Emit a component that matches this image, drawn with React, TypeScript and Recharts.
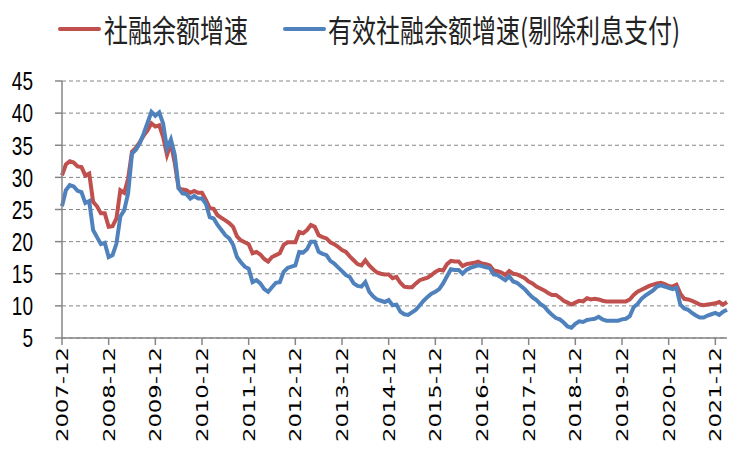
import React from "react";
import { LineChart, Line, XAxis, YAxis, CartesianGrid, Legend } from "recharts";

// Monthly categories 2007-12 .. 2022-03
const months: string[] = (() => {
  const out: string[] = [];
  let y = 2007;
  let m = 12;
  for (let i = 0; i < 172; i++) {
    out.push(`${y}-${m}`);
    m++;
    if (m > 12) {
      m = 1;
      y++;
    }
  }
  return out;
})();

const seriesNames = ["社融余额增速", "有效社融余额增速(剔除利息支付)"];

const tsfGrowth: number[] = [
  30.3, 32.0, 32.5, 32.3, 31.7, 31.6, 30.3, 30.6, 26.2, 25.5, 24.4, 24.4,
  22.3, 22.4, 23.6, 28.0, 27.6, 29.8, 34.0, 34.6, 35.5, 36.5, 37.3, 38.4,
  37.9, 38.1, 36.3, 33.5, 35.3, 32.2, 28.3, 28.1, 28.0, 27.6, 27.9, 27.6,
  27.6, 26.5, 25.2, 25.1, 24.1, 23.7, 23.3, 22.9, 22.3, 20.8, 20.2, 19.9,
  19.6, 18.2, 18.4, 18.0, 17.3, 16.9, 17.6, 17.9, 18.2, 19.5, 19.9, 19.9,
  19.9, 21.5, 21.3, 21.8, 22.6, 22.3, 21.0, 20.7, 20.5, 19.9, 19.6, 19.2,
  18.7, 18.4, 17.7, 17.1, 16.5, 16.3, 17.1, 16.3, 15.7, 15.2, 15.0, 14.9,
  14.9, 14.3, 14.5, 13.6, 13.0, 12.9, 12.9, 13.5, 14.0, 14.2, 14.4, 14.8,
  15.3, 15.6, 15.5, 16.5, 17.0, 16.9, 16.9, 16.2, 16.5, 16.6, 16.7, 16.9,
  16.6, 16.5, 16.3, 15.5, 15.4, 15.2, 14.8, 15.4, 15.0, 14.9, 14.6, 14.3,
  13.8, 13.5, 13.0, 12.7, 12.4, 12.0, 11.7, 11.7, 11.3, 10.8, 10.5, 10.2,
  10.5, 10.8, 10.7, 11.2, 11.0, 11.1, 11.0, 10.8, 10.7, 10.7, 10.7, 10.7,
  10.7, 10.7, 11.0, 11.7, 12.2, 12.5, 12.8, 13.1, 13.3, 13.5, 13.6, 13.4,
  13.1, 13.0, 13.3, 11.9, 11.1, 11.0, 10.8, 10.5, 10.2, 10.1, 10.2, 10.3,
  10.4, 10.6, 10.2, 10.6,
];

const effectiveGrowth: number[] = [
  25.5, 28.0, 28.8, 28.6, 27.9, 27.7, 26.0, 26.3, 21.8, 20.7, 19.6, 19.8,
  17.6, 17.9, 19.7, 23.9, 24.9, 27.5, 33.7, 34.3, 35.3, 36.8, 38.5, 40.2,
  39.6, 40.1, 38.4, 34.5, 35.9, 33.5, 28.3, 27.5, 27.4, 26.7, 27.1, 26.7,
  26.7, 25.9, 23.8, 23.6, 22.6, 21.8, 21.0, 20.5, 19.5, 17.6, 16.8, 16.1,
  15.8, 13.7, 14.0, 13.5, 12.6, 12.2, 12.9, 13.6, 13.7, 15.3, 15.9, 16.1,
  16.3, 18.4, 18.3, 18.8, 20.0, 20.0, 18.4, 18.1, 17.9, 17.0, 16.6, 16.0,
  15.4, 14.8, 14.5, 13.5, 13.1, 13.0, 13.7, 12.2, 11.5, 11.0, 10.8, 10.6,
  10.9, 10.1, 10.2, 9.1, 8.7, 8.6, 9.0, 9.4, 10.1, 10.8, 11.4, 11.9,
  12.2, 12.6, 13.5, 14.6, 15.7, 15.6, 15.6, 15.0, 15.6, 15.9, 16.1, 16.3,
  16.2, 16.0, 15.9, 14.9, 14.8, 14.4, 14.0, 14.6, 13.8, 13.6, 13.1, 12.6,
  11.9, 11.3, 10.9, 10.3, 9.9, 9.2, 8.6, 8.1, 7.9, 7.4, 6.8, 6.6,
  7.2, 7.6, 7.5, 7.8, 7.9, 8.0, 8.3, 7.9, 7.7, 7.7, 7.7, 7.7,
  7.9, 8.0, 8.4, 9.8, 10.3, 11.1, 11.6, 12.0, 12.4, 13.0, 13.2, 13.0,
  12.8, 12.6, 12.8, 10.2, 9.6, 9.4, 8.9, 8.5, 8.2, 8.2, 8.5, 8.7,
  8.9, 8.6, 9.1, 9.4,
];

const yTicks: number[] = [5, 10, 15, 20, 25, 30, 35, 40, 45];

const RED = "#C0504D";
const BLUE = "#4F81BD";
const AXIS = "#868686";

const data = months.map((m, i) => ({
  month: m,
  a: tsfGrowth[i],
  b: effectiveGrowth[i],
}));

const YTick = (props: any) => {
  const { x, y, payload } = props;
  return (
    <g transform={`translate(${x},${y})`}>
      <text
        x={0}
        y={0}
        dy="0.36em"
        textAnchor="end"
        transform="scale(1,1.35)"
        fill="#000"
        fontSize={19}
        fontFamily="'Liberation Sans', Arial, sans-serif"
      >
        {payload.value}
      </text>
    </g>
  );
};

const XTick = (props: any) => {
  const { x, y, payload } = props;
  return (
    <g transform={`translate(${x},${y})`}>
      <text
        x={0}
        y={0}
        dy="0.36em"
        textAnchor="end"
        transform="scale(1,1.38) rotate(-90)"
        fill="#000"
        fontSize={16.5}
        fontFamily="'DejaVu Sans', sans-serif"
      >
        {payload.value}
      </text>
    </g>
  );
};

const LegendContent = () => {
  const textStyle: React.CSSProperties = {
    position: "absolute",
    top: 0,
    fontSize: 24,
    lineHeight: "30px",
    fontFamily: "'Noto Sans CJK SC', sans-serif",
    color: "#222",
    whiteSpace: "nowrap",
    transform: "scale(1,1.3)",
    transformOrigin: "left center",
  };
  return (
    <div style={{ position: "relative", width: 736, height: 0, overflow: "visible" }}>
      <div style={{ position: "absolute", left: 58, top: 13, width: 43, height: 4, background: RED, borderRadius: 2 }} />
      <span style={{ ...textStyle, left: 104 }}>{seriesNames[0]}</span>
      <div style={{ position: "absolute", left: 283, top: 13, width: 43, height: 4, background: BLUE, borderRadius: 2 }} />
      <span style={{ ...textStyle, left: 328 }}>{seriesNames[1]}</span>
    </div>
  );
};

export default function App() {
  return (
    <div style={{ position: "absolute", left: 0, top: 0, width: 736, height: 451, background: "#fff" }}>
      <LineChart
        width={736}
        height={451}
        data={data}
        margin={{ top: 81, right: 9, bottom: 0, left: 0 }}
      >
        <CartesianGrid vertical={false} stroke={AXIS} strokeDasharray="4 3" />
        <XAxis
          dataKey="month"
          interval={11}
          tickSize={7}
          tickMargin={2}
          height={113}
          axisLine={{ stroke: AXIS, strokeWidth: 1.5 }}
          tickLine={{ stroke: AXIS, strokeWidth: 1.5 }}
          tick={<XTick />}
        />
        <YAxis
          domain={[5, 45]}
          ticks={yTicks}
          interval={0}
          width={62}
          tickSize={7}
          tickMargin={22}
          axisLine={{ stroke: AXIS, strokeWidth: 1.5 }}
          tickLine={{ stroke: AXIS, strokeWidth: 1.5 }}
          tick={<YTick />}
        />
        <Legend
          verticalAlign="top"
          content={<LegendContent />}
          wrapperStyle={{ top: 14, left: 0, width: 736, height: 0 }}
        />
        <Line
          type="linear"
          dataKey="a"
          name={seriesNames[0]}
          stroke={RED}
          strokeWidth={4}
          dot={false}
          isAnimationActive={false}
        />
        <Line
          type="linear"
          dataKey="b"
          name={seriesNames[1]}
          stroke={BLUE}
          strokeWidth={4}
          dot={false}
          isAnimationActive={false}
        />
      </LineChart>
    </div>
  );
}
